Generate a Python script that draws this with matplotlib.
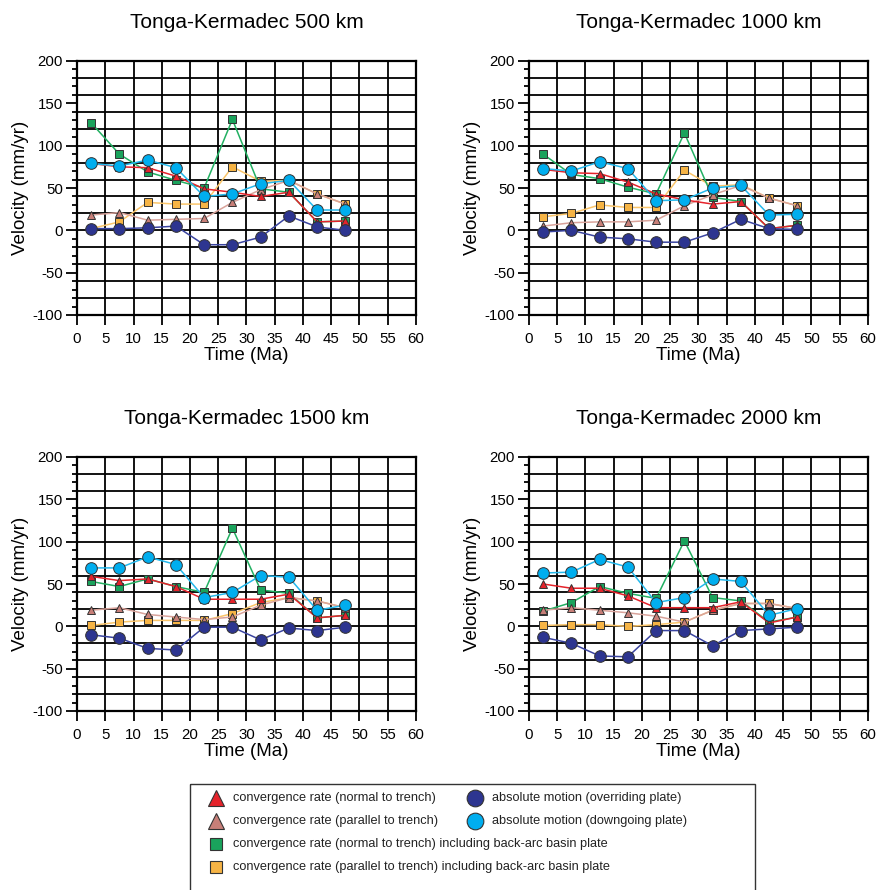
import matplotlib
matplotlib.use('Agg')
import matplotlib.pyplot as plt
from matplotlib.ticker import MultipleLocator
from matplotlib.patches import Rectangle

plt.rcParams['font.family'] = ['Liberation Sans', 'DejaVu Sans']
plt.rcParams['axes.unicode_minus'] = False

# time bins (Ma)
time_ma = [2.5, 7.5, 12.5, 17.5, 22.5, 27.5, 32.5, 37.5, 42.5, 47.5]

titles = ['Tonga-Kermadec 500 km', 'Tonga-Kermadec 1000 km',
          'Tonga-Kermadec 1500 km', 'Tonga-Kermadec 2000 km']

# convergence rate normal to trench
normal_500 = [79, 75, 74, 64, 49, 45, 40, 45, 10, 11]
normal_1000 = [72, 68, 67, 57, 43, 36, 31, 34, 2, 6]
normal_1500 = [59, 54, 56, 47, 32, 32, 32, 38, 10, 13]
normal_2000 = [50, 45, 45, 36, 22, 22, 22, 29, 4, 11]

# convergence rate parallel to trench
parallel_500 = [18, 21, 12, 13, 14, 33, 48, 59, 43, 31]
parallel_1000 = [5, 9, 10, 10, 12, 29, 42, 53, 38, 29]
parallel_1500 = [19, 22, 14, 11, 8, 11, 25, 34, 30, 22]
parallel_2000 = [19, 22, 19, 16, 12, 5, 19, 27, 27, 21]

# same, including back-arc basin plate
normal_bab_500 = [127, 90, 69, 59, 50, 131, 49, 45, 10, 11]
normal_bab_1000 = [90, 66, 61, 51, 43, 115, 39, 34, 2, 6]
normal_bab_1500 = [53, 47, 56, 47, 40, 116, 43, 39, 10, 13]
normal_bab_2000 = [18, 28, 47, 39, 33, 101, 34, 30, 5, 11]

parallel_bab_500 = [2, 10, 33, 31, 31, 75, 58, 59, 43, 31]
parallel_bab_1000 = [16, 20, 30, 27, 27, 71, 52, 54, 38, 29]
parallel_bab_1500 = [1, 5, 7, 7, 7, 15, 28, 34, 30, 22]
parallel_bab_2000 = [1, 2, 2, 0, 2, 5, 19, 27, 27, 21]

# absolute plate motions
overriding_500 = [2, 2, 3, 5, -17, -17, -8, 17, 4, 0]
overriding_1000 = [-2, 0, -8, -10, -14, -14, -3, 13, 2, 1]
overriding_1500 = [-10, -14, -26, -28, -1, -1, -16, -2, -5, -1]
overriding_2000 = [-13, -20, -35, -36, -5, -5, -23, -5, -3, -1]

downgoing_500 = [79, 76, 83, 74, 40, 43, 55, 59, 24, 24]
downgoing_1000 = [73, 70, 81, 73, 35, 36, 50, 53, 18, 19]
downgoing_1500 = [69, 69, 82, 73, 34, 40, 60, 58, 19, 25]
downgoing_2000 = [63, 64, 79, 70, 28, 34, 56, 53, 13, 21]

panels = [
    dict(normal=normal_500, parallel=parallel_500, normal_bab=normal_bab_500,
         parallel_bab=parallel_bab_500, over=overriding_500, down=downgoing_500),
    dict(normal=normal_1000, parallel=parallel_1000, normal_bab=normal_bab_1000,
         parallel_bab=parallel_bab_1000, over=overriding_1000, down=downgoing_1000),
    dict(normal=normal_1500, parallel=parallel_1500, normal_bab=normal_bab_1500,
         parallel_bab=parallel_bab_1500, over=overriding_1500, down=downgoing_1500),
    dict(normal=normal_2000, parallel=parallel_2000, normal_bab=normal_bab_2000,
         parallel_bab=parallel_bab_2000, over=overriding_2000, down=downgoing_2000),
]

# key: (marker, marker face, line colour, marker size), drawn bottom to top
styles = [
    ('parallel_bab', 's', '#f6b445', '#fac56a', 5.4),
    ('normal_bab', 's', '#1aa35c', '#22b062', 5.4),
    ('parallel', '^', '#c87f78', '#d9a39b', 6.4),
    ('normal', '^', '#e5232b', '#e5232b', 6.4),
    ('over', 'o', '#2d3590', '#3a44a0', 8.4),
    ('down', 'o', '#00aeef', '#24b8ec', 8.4),
]

W, H = 879, 890
fig = plt.figure(figsize=(W / 100, H / 100), dpi=100)

# axes boxes in pixels: left, top, right, bottom
boxes = [(77, 61, 416, 315), (529, 61, 868, 315),
         (77, 457, 416, 711), (529, 457, 868, 711)]

for box, title, data in zip(boxes, titles, panels):
    l, t, r, b = box
    ax = fig.add_axes([l / W, 1 - b / H, (r - l) / W, (b - t) / H])
    ax.set_xlim(0, 60)
    ax.set_ylim(-100, 200)

    for x in range(0, 61, 5):
        ax.axvline(x, color='black', lw=1.3, zorder=1)
    for y in range(-100, 201, 20):
        ax.axhline(y, color='black', lw=1.3, zorder=1)

    for i, (key, mk, mc, lc, ms) in enumerate(styles):
        ax.plot(time_ma, data[key], color=lc, lw=1.1, zorder=3 + i)
        ax.plot(time_ma, data[key], ls='none', marker=mk, ms=ms, mfc=mc,
                mec='#333333', mew=0.7, zorder=3 + i, clip_on=False)

    ax.xaxis.set_major_locator(MultipleLocator(5))
    ax.yaxis.set_major_locator(MultipleLocator(50))
    ax.yaxis.set_minor_locator(MultipleLocator(10))
    ax.tick_params(axis='x', length=7, width=1.3, labelsize=10.8, pad=5)
    ax.tick_params(axis='y', which='major', length=8, width=1.3, labelsize=10.8, pad=2)
    ax.tick_params(axis='y', which='minor', length=3.5, width=1.3)
    for s in ax.spines.values():
        s.set_linewidth(1.6)
    ax.set_xlabel('Time (Ma)', fontsize=13.5, labelpad=1)
    ax.set_ylabel('Velocity (mm/yr)', fontsize=13.5, labelpad=3)
    ax.set_title(title, fontsize=15, pad=24)

# legend panel
lg = fig.add_axes([0, 0, 1, 1])
lg.set_xlim(0, W)
lg.set_ylim(H, 0)
lg.axis('off')
lg.add_patch(Rectangle((190, 784), 565, 120, fill=False, ec='#333333', lw=1.0))

entries = [
    ('^', '#e5232b', 12, 216, 798, 'convergence rate (normal to trench)'),
    ('^', '#c87f78', 12, 216, 821, 'convergence rate (parallel to trench)'),
    ('s', '#1aa35c', 8.5, 216, 844, 'convergence rate (normal to trench) including back-arc basin plate'),
    ('s', '#f6b445', 8.5, 216, 867, 'convergence rate (parallel to trench) including back-arc basin plate'),
    ('o', '#2d3590', 12, 475, 798, 'absolute motion (overriding plate)'),
    ('o', '#00aeef', 12, 475, 821, 'absolute motion (downgoing plate)'),
]
for mk, c, ms, x, y, label in entries:
    lg.plot([x], [y], marker=mk, ms=ms, mfc=c, mec='#333333', mew=0.8, ls='none')
    lg.text(x + 17, y, label, fontsize=9.2, va='center', ha='left', color='#222222')

fig.savefig('out.png', dpi=100)
